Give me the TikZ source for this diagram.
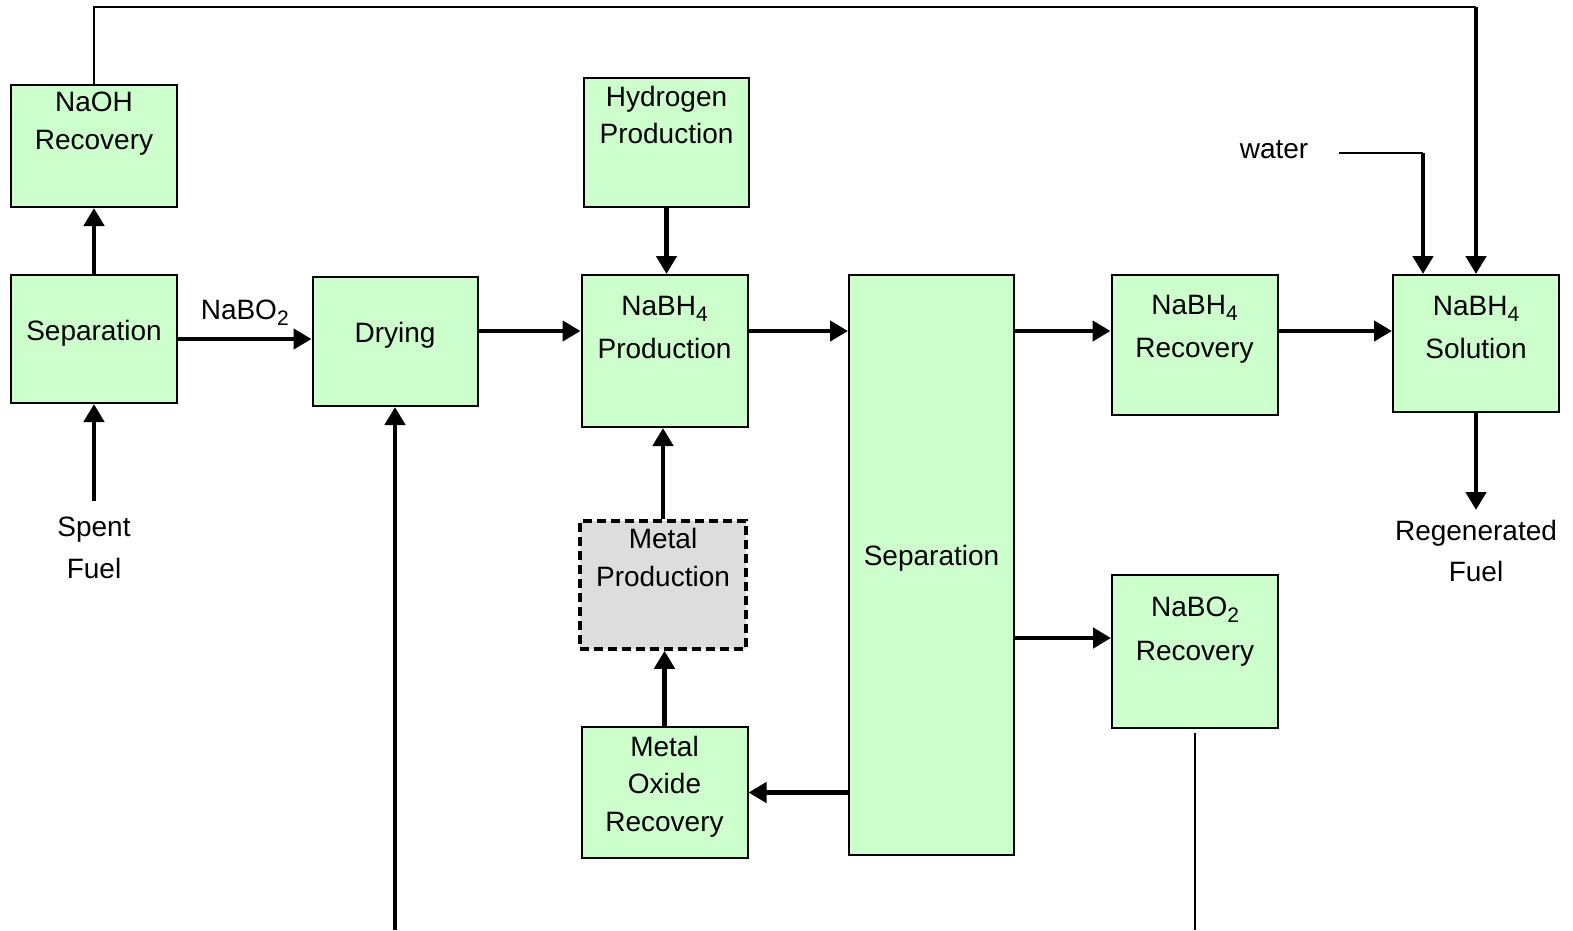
\documentclass[tikz,border=0pt]{standalone}
\usepackage{fontspec}
\setmainfont{Liberation Sans}
\usetikzlibrary{arrows.meta,positioning}
\definecolor{unitfill}{HTML}{CCFFCC}
\definecolor{offfill}{HTML}{DDDDDD}
\newcommand{\bigfont}{\fontsize{28}{37.5}\selectfont}
\newcommand{\sub}[1]{\raisebox{-6pt}{\fontsize{21}{21}\selectfont #1}}

\begin{document}
\begin{tikzpicture}[x=1pt,y=-1pt,line width=2pt,>={Triangle[length=18pt,width=20pt]},
 box/.style={draw,fill=unitfill,inner sep=0pt,minimum width=166pt,font=\bigfont},
 dbox/.style={box,fill=offfill,line width=3.5pt,dash pattern=on 9pt off 5pt},
 lbl/.style={align=center,inner sep=0pt,font=\bigfont},
 flow/.style={->,line width=4.5pt}]
\useasboundingbox (0,0) rectangle (1573,930);
% process units
\node[box,minimum height=122pt] (naoh) at (94,146) {};
\node[lbl,below=7pt of naoh.north] (naoh-t) {NaOH\\Recovery};
\node[box,minimum height=128pt,text depth=18pt] (sep1) at (94,339) {Separation};
\node[box,minimum width=165pt,minimum height=129pt,text depth=18pt] (dry) at (395,341.5) {Drying};
\node[box,minimum width=165pt,minimum height=129pt] (h2) at (666.5,142.5) {};
\node[lbl,below=8pt of h2.north] (h2-t) {Hydrogen\\Production};
\node[box,minimum height=152pt] (prod) at (664.5,351) {};
\node[lbl,below=21pt of prod.north] (prod-t) {NaBH\sub{4}\\[6pt]Production};
\node[dbox,minimum height=128pt] (metal) at (663,585) {};
\node[lbl,below=8pt of metal.north] (metal-t) {Metal\\Production};
\node[box,minimum height=131pt] (oxide) at (664.5,792.5) {};
\node[lbl,below=9pt of oxide.north] (oxide-t) {Metal\\Oxide\\Recovery};
\node[box,minimum width=165pt,minimum height=580pt,text depth=20pt] (sep2) at (931.5,565) {Separation};
\node[box,minimum height=140pt] (rec) at (1194.5,345) {};
\node[lbl,below=20pt of rec.north] (rec-t) {NaBH\sub{4}\\[6pt]Recovery};
\node[box,minimum height=153pt] (bo2) at (1195,651.5) {};
\node[lbl,below=22pt of bo2.north] (bo2-t) {NaBO\sub{2}\\[6pt]Recovery};
\node[box,minimum height=137pt] (sol) at (1476,343.5) {};
\node[lbl,below=21pt of sol.north] (sol-t) {NaBH\sub{4}\\[6pt]Solution};
% feeds and products
\node[lbl,below=112pt of sep1] (spent) {Spent\\[4pt]Fuel};
\node[lbl,below=106pt of sol] (regen) {Regenerated\\[4pt]Fuel};
\node[lbl] (water) at (1274,150) {water};
\coordinate (row) at (0,331);
\coordinate (lowrow) at (0,638);
\coordinate (top) at (0,7);
\coordinate (bot) at (0,930);
\coordinate (wdrop) at ([xshift=31pt]sol.north west);
% streams
\draw[flow] (sep1.east) -- (sep1.east -| dry.west)
 node[lbl,midway,above=11pt] (bo2-lbl) {NaBO\sub{2}};
\draw[flow] (sep1) -- (naoh);
\draw[flow,shorten <=15pt] (spent) -- (sep1);
\draw[flow] (dry.east |- row) -- (prod.west |- row);
\draw[flow] (h2) -- (h2 |- prod.north);
\draw[flow] (metal) -- (metal |- prod.south);
\draw[flow] (oxide) -- (oxide |- metal.south);
\draw[flow] (prod.east |- row) -- (sep2.west |- row);
\draw[flow] (sep2.west |- oxide) -- (oxide.east);
\draw[flow] (sep2.east |- row) -- (rec.west |- row);
\draw[flow] (sep2.east |- lowrow) -- (bo2.west |- lowrow);
\draw[flow] (rec.east |- row) -- (sol.west |- row);
\draw[flow,shorten >=9pt] (sol) -- (regen);
\draw (naoh) |- (sol |- top);
\draw[flow] (sol |- top) -- (sol);
\draw[shorten <=30pt] ([yshift=-3pt]water.east) -- ([yshift=-3pt]water.east -| wdrop);
\draw[flow] ([yshift=-3pt]water.east -| wdrop) -- (wdrop);
\draw[flow] (dry |- bot) -- (dry);
\draw[shorten <=4pt] (bo2) -- (bo2 |- bot);
\end{tikzpicture}
\end{document}
